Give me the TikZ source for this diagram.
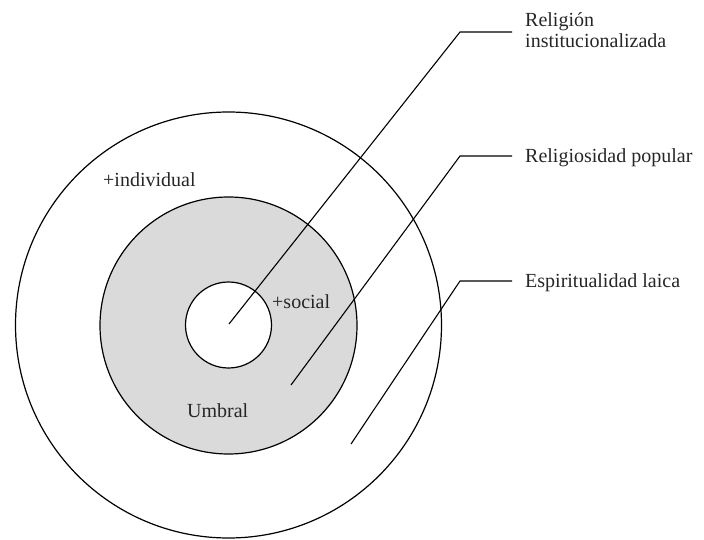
\documentclass[tikz,border=0pt]{standalone}
\usepackage{fontspec}
\setmainfont{Liberation Serif}
\definecolor{ringgrey}{HTML}{DADADA}
\begin{document}
\begin{tikzpicture}[x=1pt,y=-1pt,
  ring/.style={circle,draw=black,line width=1.2pt,inner sep=0pt},
  leader/.style={draw=black,line width=1.1pt},
  lbl/.style={anchor=base west,inner sep=0pt,font=\fontsize{20}{21}\selectfont,text=black!85}]
  \useasboundingbox (0,0) rectangle (704,540);
  % concentric rings
  \node[ring,fill=white,minimum size=426pt] (outer) at (228.5,325) {};
  \node[ring,fill=ringgrey,minimum size=257pt] (middle) at (228.5,325.5) {};
  \node[ring,fill=white,minimum size=86pt] (inner) at (228.5,325) {};
  % ring labels
  \node[lbl] (indiv) at (103,187) {+individual};
  \node[lbl] (social) at (272,308) {+social};
  \node[lbl] (umbral) at (187,417) {Umbral};
  % leader line end points
  \coordinate (p1) at (229,324);
  \coordinate (b1) at (460,32);
  \coordinate (e1) at (512,32);
  \coordinate (p2) at (291,385);
  \coordinate (b2) at (460,156);
  \coordinate (e2) at (512,156);
  \coordinate (p3) at (351,444);
  \coordinate (b3) at (460,281);
  \coordinate (e3) at (512,281);
  \draw[leader] (p1) -- (b1) -- (e1);
  \draw[leader] (p2) -- (b2) -- (e2);
  \draw[leader] (p3) -- (b3) -- (e3);
  % category names
  \node[lbl] (rel1) at (525,27) {Religión};
  \node[lbl] (rel2) at (525,48) {institucionalizada};
  \node[lbl] (pop) at (525,163) {Religiosidad popular};
  \node[lbl] (laica) at (525,287) {Espiritualidad laica};
\end{tikzpicture}
\end{document}
